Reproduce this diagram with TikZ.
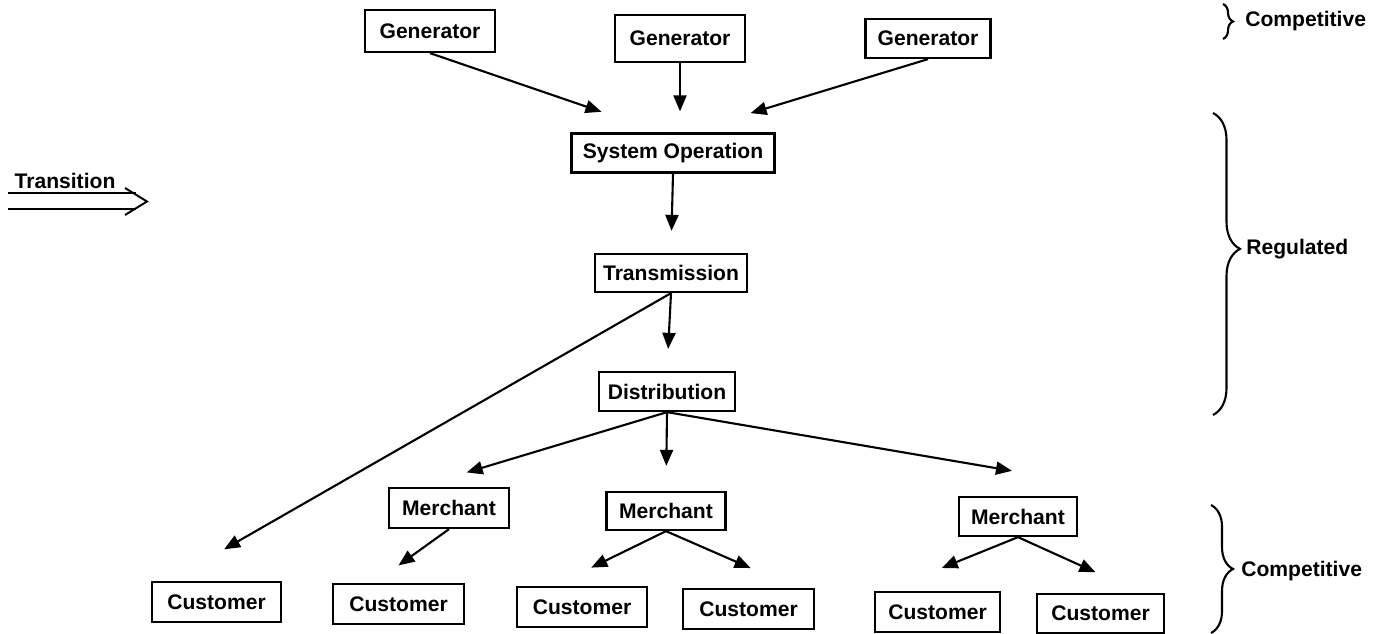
\documentclass[tikz,border=0pt]{standalone}
\usepackage{fontspec}
\setmainfont{Liberation Sans}
\usepackage{tikz}
\usetikzlibrary{arrows.meta,positioning,decorations.pathreplacing}
\tikzstyle{unit} = [rectangle, draw, line width=1.3pt, minimum height=0.8cm, inner xsep=3pt, text centered, font=\fontsize{12}{14}\selectfont\bfseries]
\tikzstyle{arrow} = [line width=1.2pt, -{Triangle[length=0.32cm, width=0.26cm]}]
\tikzstyle{sidebrace} = [decorate, line width=1.2pt]
\tikzstyle{tag} = [font=\fontsize{12}{14}\selectfont\bfseries, anchor=west, inner sep=0pt]

\begin{document}
\begin{tikzpicture}
\useasboundingbox (0,0) rectangle (27.52,-12.68);
% Generators
\node[unit, minimum width=2.6cm, minimum height=0.84cm] (gen1) at (8.60,-0.62) {Generator};
\node[unit, minimum width=2.6cm, minimum height=0.94cm] (gen2) at (13.60,-0.77) {Generator};
\node[unit, minimum width=2.5cm, minimum height=0.78cm] (gen3) at (18.56,-0.77) {Generator};

% Grid chain
\node[unit, minimum width=4.06cm, minimum height=0.78cm] (sysop) at (13.46,-3.06) {System Operation};
\node[unit, minimum width=3.04cm, minimum height=0.76cm] (trans) at (13.42,-5.46) {Transmission};
\node[unit, minimum width=2.72cm, minimum height=0.78cm] (dist) at (13.34,-7.83) {Distribution};

% Merchants
\node[unit, minimum width=2.4cm] (merch1) at (8.98,-10.16) {Merchant};
\node[unit, minimum width=2.38cm, minimum height=0.76cm] (merch2) at (13.32,-10.22) {Merchant};
\node[unit, minimum width=2.36cm, minimum height=0.78cm] (merch3) at (20.36,-10.33) {Merchant};

% Customers
\node[unit, minimum width=2.58cm] (cust1) at (4.33,-12.04) {Customer};
\node[unit, minimum width=2.62cm] (cust2) at (7.97,-12.08) {Customer};
\node[unit, minimum width=2.6cm] (cust3) at (11.64,-12.14) {Customer};
\node[unit, minimum width=2.62cm] (cust4) at (14.97,-12.18) {Customer};
\node[unit, minimum width=2.5cm] (cust5) at (18.75,-12.24) {Customer};
\node[unit, minimum width=2.54cm, minimum height=0.78cm] (cust6) at (22.01,-12.27) {Customer};

\draw[arrow, shorten >=1.27cm] (gen1.south) -- (sysop.119);
\draw[arrow, shorten >=0.42cm] (gen2.south) -- (gen2.south |- sysop.north);
\draw[arrow, shorten >=1.32cm] (gen3.south) -- (sysop.55);
\draw[arrow, shorten >=0.44cm] (sysop.south) -- (trans.north);
\draw[arrow, shorten >=0.44cm] (trans.south) -- (dist.north);
\draw[arrow, shorten >=1.27cm] (trans.south) -- (cust1.156);

\coordinate[above left=0.5cm and 0.12cm of merch3.north] (m3in);
\draw[arrow, shorten >=1.0cm] (dist.south) -- (merch1.145);
\draw[arrow, shorten >=0.5cm] (dist.south) -- (merch2.north);
\draw[arrow] (dist.south) -- (m3in);

\draw[arrow, shorten >=0.6cm] (merch1.south) -- (cust2.139);
\draw[arrow, shorten >=0.83cm] (merch2.south) -- (cust3.143);
\draw[arrow, shorten >=0.99cm] (merch2.south) -- (cust4.24);
\draw[arrow, shorten >=1.22cm] (merch3.south) -- (cust5.158);
\draw[arrow, shorten >=1.0cm] (merch3.south) -- (cust6.27);

% Market sides
\draw[sidebrace, decoration={brace, amplitude=0.2cm}] (24.46,-0.08) -- (24.46,-0.78);
\node[tag] (comptop) at (24.90,-0.43) {Competitive};
\draw[sidebrace, decoration={brace, amplitude=0.54cm, aspect=0.45}] (24.26,-2.26) -- (24.26,-8.30);
\node[tag] (regulated) at (24.92,-4.98) {Regulated};
\draw[sidebrace, decoration={brace, amplitude=0.44cm}] (24.22,-10.10) -- (24.22,-12.66);
\node[tag] (compbot) at (24.82,-11.42) {Competitive};

% Transition arrow
\node[tag, anchor=center] (trlabel) at (1.30,-3.62) {Transition};
\coordinate (trstart) at (0.16,-4.02);
\coordinate (trend) at (2.72,-4.02);
\coordinate (trtip) at (2.94,-4.03);
\draw[double, double distance=0.28cm, line width=1pt] (trstart) -- (trend);
\draw[line width=1.1pt, line join=miter] (trtip) ++(-0.44,0.27) -- (trtip) -- ++(-0.44,-0.27);
\end{tikzpicture}
\end{document}
